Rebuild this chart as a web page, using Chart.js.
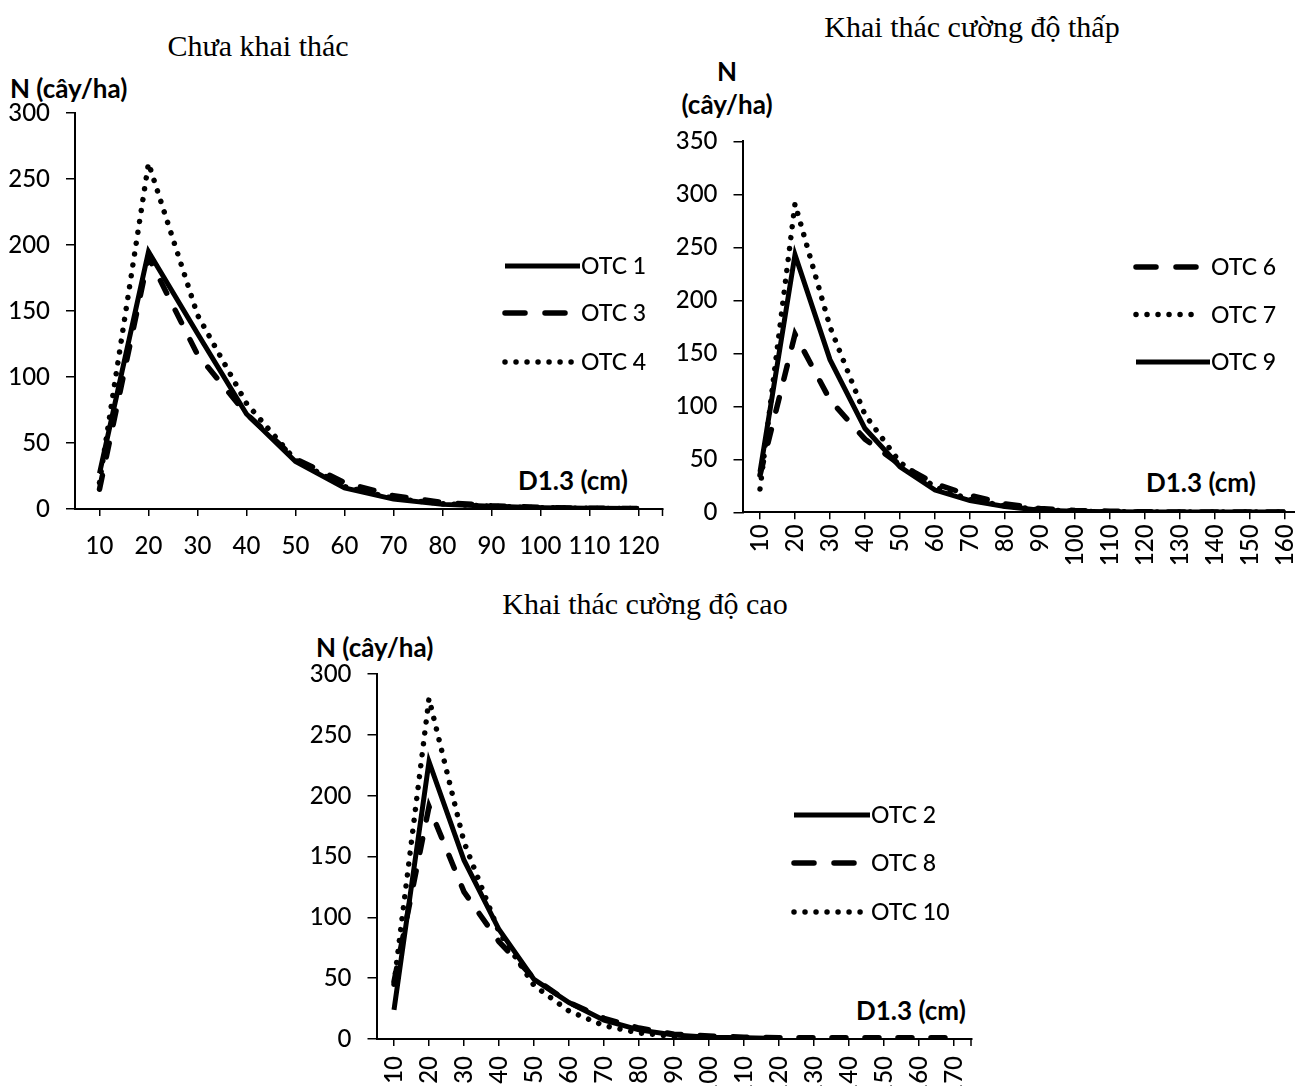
<!DOCTYPE html>
<html>
<head>
<meta charset="utf-8">
<title>Phân bố N/D1.3</title>
<script src="https://cdn.jsdelivr.net/npm/chart.js"></script>
<style>
  html, body { margin: 0; padding: 0; background: #fff; }
  body { width: 1295px; height: 1086px; position: relative; overflow: hidden; }
  canvas { position: absolute; }
  .t { position: absolute; white-space: nowrap; color: #000; line-height: 1; }
  .title { font-family: "Liberation Serif", serif; font-size: 30px; transform: translate(-50%, -50%); }
  .lab { font-family: Lato, sans-serif; font-weight: bold; font-size: 26px; transform: translateY(-50%); }
  .mid { transform: translate(-50%, -50%); }
</style>
</head>
<body>
  <div class="t title" style="left:258px;top:46px">Chưa khai thác</div>
  <div class="t title" style="left:972px;top:27px">Khai thác cường độ thấp</div>
  <div class="t title" style="left:645px;top:604px">Khai thác cường độ cao</div>

  <div class="t lab" style="left:10px;top:88px">N (cây/ha)</div>
  <div class="t lab mid" style="left:727px;top:71px">N</div>
  <div class="t lab mid" style="left:727px;top:104px">(cây/ha)</div>
  <div class="t lab" style="left:316px;top:647px">N (cây/ha)</div>

  <div class="t lab" style="left:518px;top:480px">D1.3 (cm)</div>
  <div class="t lab" style="left:1146px;top:482px">D1.3 (cm)</div>
  <div class="t lab" style="left:856px;top:1010px">D1.3 (cm)</div>

  <canvas id="c1" width="680" height="480" style="left:0;top:100px"></canvas>
  <canvas id="c2" width="660" height="470" style="left:660px;top:120px"></canvas>
  <canvas id="c3" width="700" height="440" style="left:290px;top:660px"></canvas>

<script>
// D1.3 classes (cm)
const d1 = ["10", "20", "30", "40", "50", "60", "70", "80", "90", "100", "110", "120"];
const d2 = ["10", "20", "30", "40", "50", "60", "70", "80", "90", "100", "110", "120", "130", "140", "150", "160"];
const d3 = ["10", "20", "30", "40", "50", "60", "70", "80", "90", "100", "110", "120", "130", "140", "150", "160", "170"];

// Chưa khai thác
const otc1 = [27, 195, 133, 72, 36, 16, 7.5, 3.5, 2, 1, 0.5, 0.3];
const otc3 = [15, 191, 117, 72, 38, 20, 10, 5, 2.5, 1.2, 0.6, 0.3];
const otc4 = [20, 262, 147, 80, 37, 17, 8, 4, 2, 1, 0.5, 0.3];

// Khai thác cường độ thấp
const otc6 = [35, 168, 106, 69, 45, 27, 16, 8, 3.5, 1.8, 1, 0.5, 0.3, 0.3, 0.3, 0.3];
const otc7 = [22, 291, 175, 92, 47, 24, 12, 6, 2.5, 1, 0.5, 0.3, 0.3, 0.3, 0.3, 0.3];
const otc9 = [38, 243, 144, 79, 43, 21, 11, 5.5, 2, 1, 0.5, 0.3, 0.3, 0.3, 0.3, 0.3];

// Khai thác cường độ cao
const otc2 = [24, 228, 147, 90, 49, 30, 15.5, 7.5, 3.3, 1.5, 1, 0.5, null, null, null, null, null];
const otc8 = [47, 191, 121, 80, 50, 30, 17, 9, 4, 2.5, 1.5, 1, 1, 1, 1, 1, 1];
const otc10 = [45, 280, 162, 88, 44, 23, 11, 5, 2, 1, 0.5, null, null, null, null, null, null];

const FONT = "Lato, sans-serif";
const TICKFONT = { family: FONT, size: 24, weight: 500 };

const solid = { borderWidth: 5, borderDash: [], borderCapStyle: "butt" };
const dashed = { borderWidth: 5.5, borderDash: [14, 19], borderCapStyle: "round", legendDash: [20, 20] };
const dotted = { borderWidth: 5.5, borderDash: [0.01, 11], borderCapStyle: "round" };

function line(label, data, style) {
  return Object.assign({
    label: label,
    data: data,
    borderColor: "#000",
    backgroundColor: "#000",
    pointRadius: 0,
    tension: 0,
    fill: false,
    borderJoinStyle: "miter",
    spanGaps: false
  }, style);
}

// legend drawn inside the plot, like the Excel original
const otcLegend = {
  id: "otcLegend",
  afterDraw(chart, args, o) {
    const ctx = chart.ctx;
    const a = chart.chartArea;
    ctx.save();
    // Excel puts one more tick mark where the category axis ends
    ctx.strokeStyle = "#000";
    ctx.lineWidth = 1.5;
    ctx.beginPath();
    ctx.moveTo(a.right - 0.5, a.bottom);
    ctx.lineTo(a.right - 0.5, a.bottom + 7);
    ctx.stroke();

    chart.data.datasets.forEach((ds, i) => {
      const y = o.ys[i];
      ctx.beginPath();
      ctx.lineWidth = ds.borderWidth;
      ctx.lineCap = ds.borderCapStyle;
      ctx.setLineDash(ds.legendDash || ds.borderDash);
      ctx.moveTo(o.x0, y);
      ctx.lineTo(ds.borderDash.length ? o.x1 : o.tx - 1, y);
      ctx.stroke();
      ctx.setLineDash([]);
      ctx.fillStyle = "#000";
      ctx.font = "500 23px " + FONT;
      ctx.textBaseline = "middle";
      ctx.fillText(ds.label, o.tx, y + 1);
    });
    ctx.restore();
  }
};

function makeChart(id, labels, datasets, yMax, g) {
  return new Chart(document.getElementById(id), {
    type: "line",
    data: { labels: labels, datasets: datasets },
    plugins: [otcLegend],
    options: {
      responsive: false,
      animation: false,
      events: [],
      layout: { padding: { left: 0, right: g.right, top: g.top, bottom: 0 } },
      plugins: {
        legend: { display: false },
        tooltip: { enabled: false },
        otcLegend: g.legend
      },
      scales: {
        x: {
          type: "category",
          offset: true,
          grid: { drawOnChartArea: false, drawTicks: true, tickLength: 7, color: "#000", lineWidth: 1.5, offset: false },
          border: { display: true, color: "#000", width: 2 },
          ticks: {
            autoSkip: false,
            maxRotation: g.rot,
            minRotation: g.rot,
            padding: g.xPad,
            color: "#000",
            font: TICKFONT
          },
          afterFit(s) {
            s.height = g.xH;
            s.paddingLeft = 0;
            s.paddingRight = 0;
          }
        },
        y: {
          min: 0,
          max: yMax,
          grid: { drawOnChartArea: false, drawTicks: true, tickLength: 9, color: "#000", lineWidth: 1.5 },
          border: { display: true, color: "#000", width: 2 },
          ticks: {
            stepSize: 50,
            padding: 16,
            color: "#000",
            font: TICKFONT
          },
          afterFit(s) {
            s.width = g.yW;
            s.paddingTop = 0;
            s.paddingBottom = 0;
          }
        }
      }
    }
  });
}

makeChart("c1", d1, [
  line("OTC 1", otc1, solid),
  line("OTC 3", otc3, dashed),
  line("OTC 4", otc4, dotted)
], 300, {
  yW: 75, xH: 71, top: 13, right: 17, rot: 0, xPad: 16,
  legend: { x0: 505, x1: 577, tx: 581, ys: [166, 213, 262] }
});

makeChart("c2", d2, [
  line("OTC 6", otc6, dashed),
  line("OTC 7", otc7, dotted),
  line("OTC 9", otc9, solid)
], 350, {
  yW: 82.5, xH: 77.7, top: 21.3, right: 17.5, rot: 90, xPad: 5,
  legend: { x0: 476, x1: 539, tx: 551, ys: [147, 194.5, 242] }
});

makeChart("c3", d3, [
  line("OTC 2", otc2, solid),
  line("OTC 8", otc8, dashed),
  line("OTC 10", otc10, dotted)
], 300, {
  yW: 86.5, xH: 61, top: 14.2, right: 18.5, rot: 90, xPad: 10,
  legend: { x0: 504, x1: 576, tx: 581, ys: [155, 203, 252] }
});
</script>
</body>
</html>
